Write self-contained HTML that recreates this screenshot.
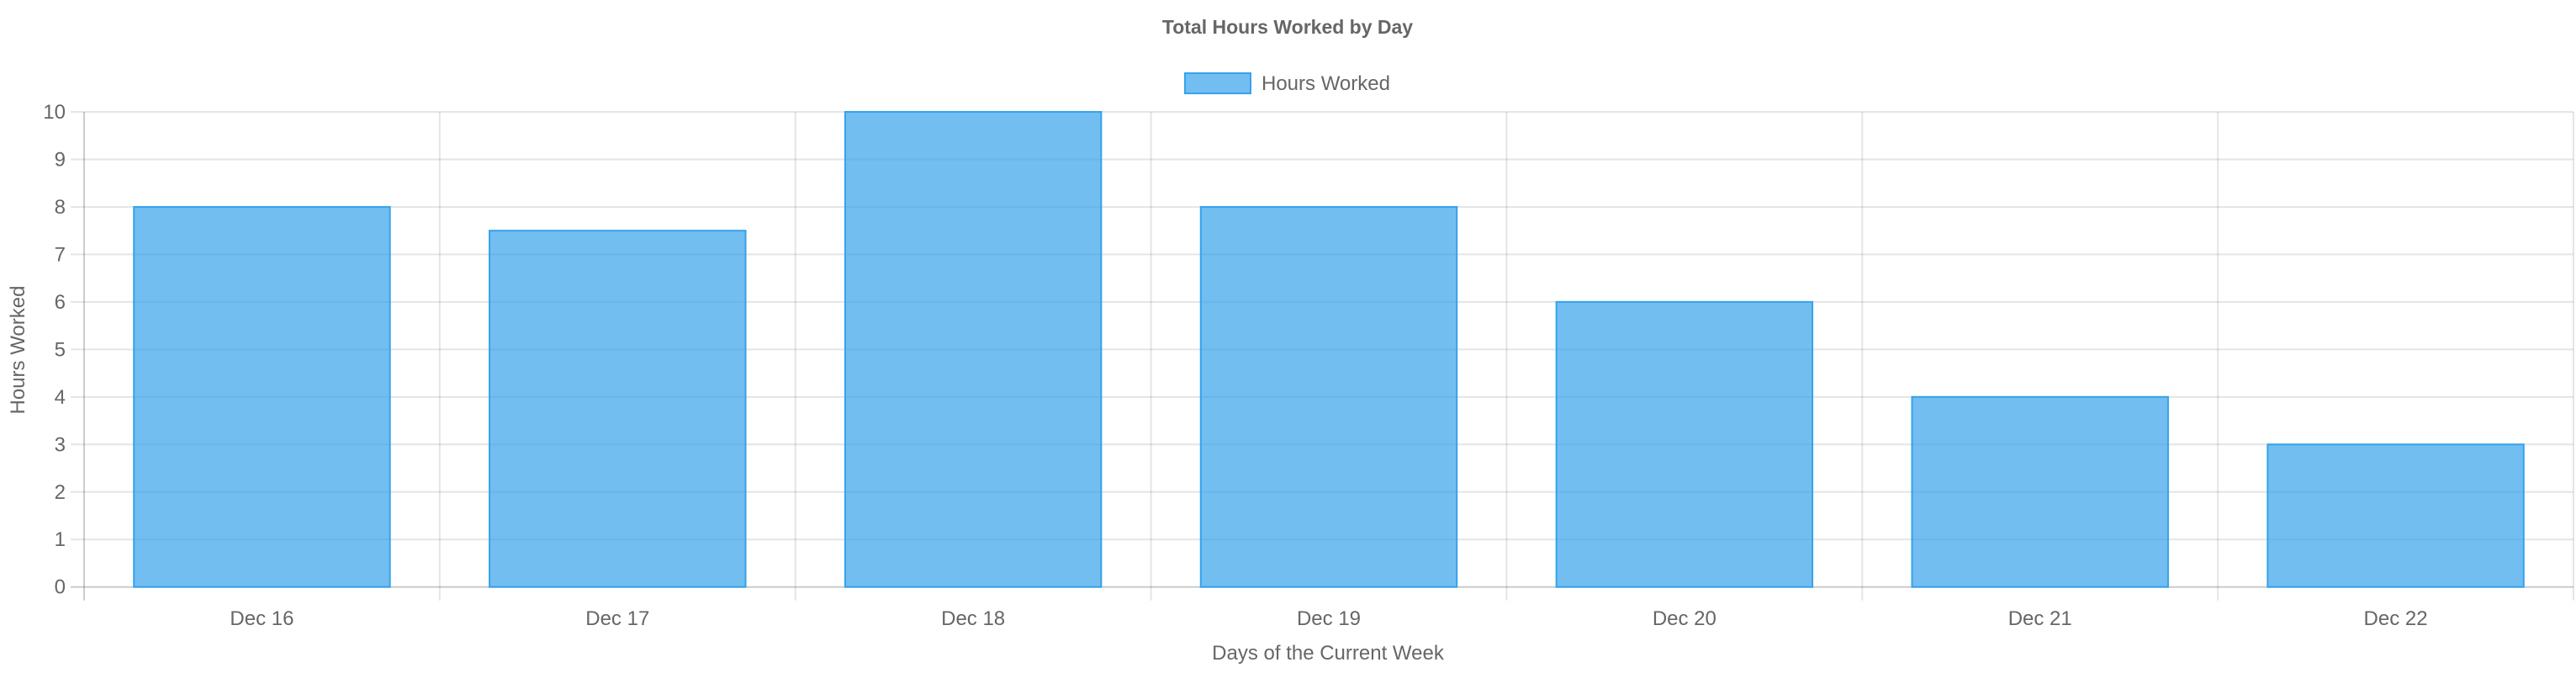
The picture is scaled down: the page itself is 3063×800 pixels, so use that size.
<!DOCTYPE html>
<html><head><meta charset="utf-8"><style>
html,body{margin:0;padding:0;background:#fff;}
svg{display:block;font-family:"Liberation Sans",Arial,sans-serif;}
</style></head><body>
<svg id="chart" width="3063" height="800" viewBox="0 0 3063 800">
<text x="1531" y="40" text-anchor="middle" font-size="23" font-weight="bold" fill="#666">Total Hours Worked by Day</text>
<g>
<rect x="1409" y="87" width="78" height="24" fill="rgba(54,162,235,0.7)" stroke="#36a2eb" stroke-width="2"/>
<text x="1500" y="107" font-size="24" fill="#666">Hours Worked</text>
</g>
<g id="grid"></g>
<g id="bars"></g>
<g id="labels"></g>
<text x="1579" y="784" text-anchor="middle" font-size="24" fill="#666">Days of the Current Week</text>
<text transform="translate(29,416) rotate(-90)" text-anchor="middle" font-size="24" fill="#666">Hours Worked</text>
</svg>
<script>
const categories = ["Dec 16","Dec 17","Dec 18","Dec 19","Dec 20","Dec 21","Dec 22"];
const hoursWorked = [8,7.5,10,8,6,4,3];
const yTicks = [0,1,2,3,4,5,6,7,8,9,10];

const NS="http://www.w3.org/2000/svg";
const L=100, R=3060, T=133, B=697.7, yMax=10;
const cw=(R-L)/categories.length;
const y=v=>B-(v/yMax)*(B-T);
const x=i=>L+cw*i;
function mk(tag,attrs,parent){const e=document.createElementNS(NS,tag);for(const k in attrs)e.setAttribute(k,attrs[k]);parent.appendChild(e);return e;}
const grid=document.getElementById('grid'), bars=document.getElementById('bars'), labels=document.getElementById('labels');
yTicks.forEach(t=>{
  const ln=mk('line',{x1:L-16,x2:R,y1:y(t),y2:y(t),stroke:t===0?'rgba(0,0,0,0.2)':'rgba(0,0,0,0.1)','stroke-width':2},grid);
  
  
  const tx=mk('text',{x:L-22,y:y(t)+8,'text-anchor':'end','font-size':24,fill:'#666'},labels);
  tx.textContent=t;
  
  
});
for(let i=0;i<=categories.length;i++){
  const ln=mk('line',{x1:x(i),x2:x(i),y1:T,y2:B+16,stroke:i===0?'rgba(0,0,0,0.2)':'rgba(0,0,0,0.1)','stroke-width':2},grid);
  
  
}
categories.forEach((c,i)=>{
  const bw=cw*0.72, bx=x(i)+(cw-bw)/2, v=hoursWorked[i];
  const r=mk('rect',{x:bx,y:y(v),width:bw,height:B-y(v),fill:'rgba(54,162,235,0.7)',stroke:'#36a2eb','stroke-width':2},bars);
  
  
  const tx=mk('text',{x:x(i)+cw/2,y:743,'text-anchor':'middle','font-size':24,fill:'#666'},labels);
  tx.textContent=c;
  
  
});
</script>
</body></html>
